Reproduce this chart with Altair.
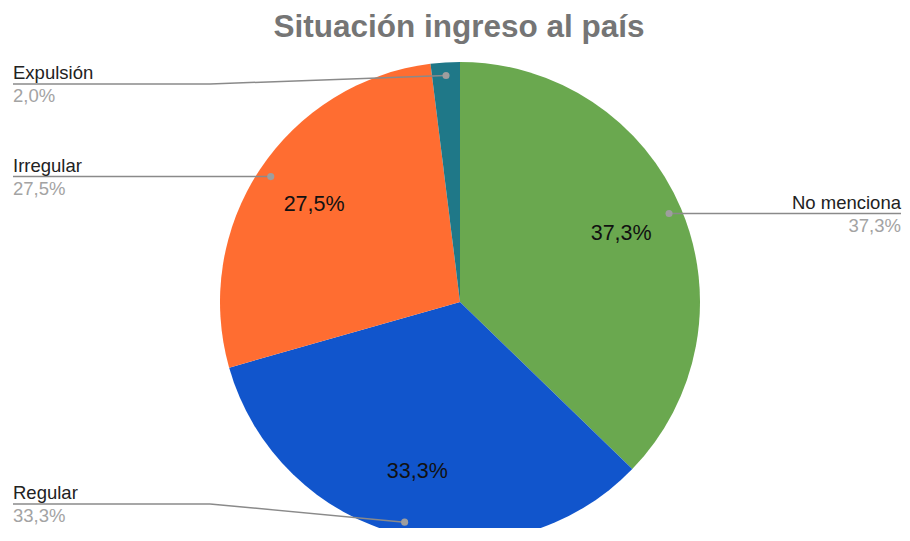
import altair as alt
import pandas as pd

# ---- data ----
categories = ["No menciona", "Regular", "Irregular", "Expulsión"]
counts = [19, 17, 14, 1]
pct_labels = ["37,3%", "33,3%", "27,5%", "2,0%"]
colors = ["#6aa84f", "#1155cc", "#ff6d31", "#1f7888"]
title_text = "Situación ingreso al país"

df = pd.DataFrame({"cat": categories, "value": counts, "pct": pct_labels,
                   "idx": list(range(len(categories)))})

# ---- layout (chart pixel coordinates) ----
W, H = 894, 520
CX, CY, R = 452, 294, 240
R_DOT, R_LAB = 227, 175
FONT = "Liberation Sans"

geo = (
    alt.Chart(df)
    .transform_joinaggregate(total="sum(value)")
    .transform_window(cum="sum(value)", sort=[alt.SortField("idx")], frame=[None, 0])
    .transform_calculate(
        ang="2*PI*(datum.cum - datum.value/2)/datum.total",
        frac="datum.value/datum.total",
    )
    .transform_calculate(
        dotx=f"{CX} + {R_DOT}*sin(datum.ang)",
        doty=f"{CY} - {R_DOT}*cos(datum.ang)",
        labx=f"{CX} + {R_LAB}*sin(datum.ang)",
        laby=f"{CY} - {R_LAB}*cos(datum.ang)",
        right="sin(datum.ang) > 0",
    )
    .transform_calculate(
        ly="clamp(datum.doty, 76, 496)",
        endx="datum.right ? 893 : 5",
        bendx="datum.right ? 702 : 202",
    )
    .transform_calculate(
        nameY="datum.ly - 5",
        valY="datum.ly + 18",
    )
)

pie = alt.Chart(df).mark_arc(outerRadius=R, strokeWidth=0).encode(
    theta=alt.Theta("value:Q", stack=True),
    color=alt.Color("cat:N", scale=alt.Scale(domain=categories, range=colors), legend=None),
    order=alt.Order("idx:Q"),
    x=alt.value(CX),
    y=alt.value(CY),
)

inner = geo.transform_filter("datum.frac >= 0.05").mark_text(
    font=FONT, fontSize=21.5, color="#111111", align="center", baseline="middle"
).encode(
    x=alt.X("labx:Q", scale=None),
    y=alt.Y("laby:Q", scale=None),
    text="pct:N",
)

line_col = "#8a8a8a"
rule1 = geo.mark_rule(color=line_col, strokeWidth=1.5).encode(
    x=alt.X("endx:Q", scale=None), x2="bendx:Q",
    y=alt.Y("ly:Q", scale=None),
)
rule2 = geo.mark_rule(color=line_col, strokeWidth=1.5).encode(
    x=alt.X("bendx:Q", scale=None), x2="dotx:Q",
    y=alt.Y("ly:Q", scale=None), y2="doty:Q",
)
dots = geo.mark_point(filled=True, size=50, color="#9e9e9e", opacity=1).encode(
    x=alt.X("dotx:Q", scale=None),
    y=alt.Y("doty:Q", scale=None),
)

def side_labels(is_right):
    f = "datum.right" if is_right else "!datum.right"
    al = "right" if is_right else "left"
    names = geo.transform_filter(f).mark_text(
        font=FONT, fontSize=18.5, color="#222222", align=al, baseline="alphabetic"
    ).encode(x=alt.X("endx:Q", scale=None), y=alt.Y("nameY:Q", scale=None), text="cat:N")
    vals = geo.transform_filter(f).mark_text(
        font=FONT, fontSize=18.5, color="#a3a3a3", align=al, baseline="alphabetic"
    ).encode(x=alt.X("endx:Q", scale=None), y=alt.Y("valY:Q", scale=None), text="pct:N")
    return names + vals

title = alt.Chart(pd.DataFrame({"t": [title_text]})).mark_text(
    font=FONT, fontSize=31.5, fontWeight="bold", color="#757575",
    align="center", baseline="alphabetic",
).encode(x=alt.value(451), y=alt.value(29), text="t:N")

chart = alt.layer(
    pie, inner, rule1, rule2, dots, side_labels(False), side_labels(True), title
).properties(
    width=W, height=H, autosize="none", padding=0, background="white"
).configure_view(stroke=None)

chart.save("out.html", embed_options={"renderer": "svg", "actions": False})
